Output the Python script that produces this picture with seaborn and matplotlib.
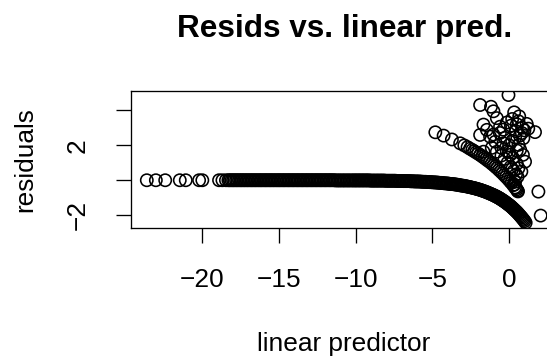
import matplotlib
matplotlib.use("Agg")
import matplotlib.pyplot as plt
import seaborn as sns
import pandas as pd

# Observations with a zero response: isolated low predictors
eta_far = [-23.62, -23.03, -22.42, -21.47, -21.08, -20.21, -20.00, -18.91, -18.69, -18.46]
res_far = [0.00, 0.00, 0.00, 0.00, 0.00, 0.00, 0.00, 0.00, 0.00, 0.00]

# Zero response, dense flat stretch
eta_flat = [-18.30, -18.21, -18.10, -18.00, -17.91, -17.80, -17.71, -17.60, -17.50, -17.41,
            -17.30, -17.21, -17.10, -17.01, -16.90, -16.80, -16.71, -16.60, -16.51, -16.40,
            -16.30, -16.20, -16.11, -16.00, -15.90, -15.81, -15.70, -15.60, -15.51, -15.40,
            -15.31, -15.20, -15.10, -15.00, -14.91, -14.80, -14.70, -14.61, -14.50, -14.40,
            -14.31, -14.20, -14.10, -14.01, -13.90, -13.80, -13.71, -13.60, -13.50, -13.41,
            -13.30, -13.20, -13.11, -13.00, -12.90, -12.81, -12.70, -12.60, -12.51, -12.40,
            -12.30, -12.21, -12.10, -12.00, -11.91, -11.80, -11.70, -11.61, -11.50, -11.40,
            -11.31, -11.20, -11.10, -11.01, -10.90, -10.80, -10.71, -10.60, -10.50, -10.41,
            -10.30, -10.20, -10.11]
res_flat = [0.00, 0.00, 0.00, 0.00, 0.00, 0.00, 0.00, 0.00, 0.00, 0.00,
            0.00, 0.00, 0.00, 0.00, 0.00, 0.00, 0.00, 0.00, 0.00, 0.00,
            0.00, 0.00, 0.00, 0.00, 0.00, 0.00, 0.00, 0.00, 0.00, 0.00,
            0.00, 0.00, 0.00, 0.00, 0.00, 0.00, 0.00, 0.00, 0.00, 0.00,
            0.00, 0.00, 0.00, 0.00, 0.00, 0.00, 0.00, 0.00, 0.00, 0.00,
            0.00, 0.00, 0.00, 0.00, 0.00, 0.00, 0.00, 0.00, 0.00, 0.00,
            0.00, 0.00, 0.00, 0.00, 0.00, 0.00, 0.00, 0.00, 0.00, 0.00,
            -0.01, -0.01, -0.01, -0.01, -0.01, -0.01, -0.01, -0.01, -0.01, -0.01,
            -0.01, -0.01, -0.01]

# Zero response, start of the bend
eta_mid = [-10.02, -9.93, -9.84, -9.75, -9.66, -9.57, -9.48, -9.39, -9.30, -9.21,
           -9.12, -9.03, -8.94, -8.85, -8.76, -8.67, -8.58, -8.49, -8.40, -8.31,
           -8.22, -8.13, -8.04, -7.95, -7.86, -7.77, -7.68, -7.59, -7.50, -7.41,
           -7.32, -7.23, -7.14, -7.05, -6.96, -6.87, -6.78, -6.69, -6.60, -6.51,
           -6.42, -6.33, -6.24, -6.15, -6.06, -5.97, -5.88, -5.79, -5.70, -5.61,
           -5.52, -5.43, -5.34, -5.25, -5.16, -5.07, -4.98, -4.89, -4.80, -4.71,
           -4.62, -4.53, -4.44, -4.35, -4.26, -4.17, -4.08, -3.99]
res_mid = [-0.01, -0.01, -0.01, -0.01, -0.01, -0.01, -0.01, -0.01, -0.01, -0.01,
           -0.01, -0.02, -0.02, -0.02, -0.02, -0.02, -0.02, -0.02, -0.02, -0.02,
           -0.02, -0.02, -0.03, -0.03, -0.03, -0.03, -0.03, -0.03, -0.03, -0.03,
           -0.04, -0.04, -0.04, -0.04, -0.04, -0.05, -0.05, -0.05, -0.05, -0.05,
           -0.06, -0.06, -0.06, -0.07, -0.07, -0.07, -0.07, -0.08, -0.08, -0.09,
           -0.09, -0.09, -0.10, -0.10, -0.11, -0.11, -0.12, -0.12, -0.13, -0.13,
           -0.14, -0.15, -0.15, -0.16, -0.17, -0.18, -0.18, -0.19]

# Zero response, steep tail
eta_tail = [-3.92, -3.84, -3.76, -3.68, -3.60, -3.52, -3.44, -3.36, -3.28, -3.20,
            -3.12, -3.04, -2.96, -2.88, -2.80, -2.72, -2.64, -2.56, -2.48, -2.40,
            -2.32, -2.24, -2.16, -2.08, -2.00, -1.92, -1.84, -1.76, -1.68, -1.60,
            -1.52, -1.44, -1.36, -1.28, -1.20, -1.12, -1.04, -0.97, -0.91, -0.85,
            -0.79, -0.73, -0.67, -0.61, -0.55, -0.49, -0.43, -0.37, -0.31, -0.25,
            -0.19, -0.13, -0.07, -0.01, 0.05, 0.11, 0.17, 0.23, 0.29, 0.35,
            0.41, 0.47, 0.53, 0.59, 0.65, 0.71, 0.77, 0.83, 0.89, 0.95,
            1.01, 1.08]
res_tail = [-0.20, -0.21, -0.22, -0.22, -0.23, -0.24, -0.25, -0.26, -0.27, -0.29,
            -0.30, -0.31, -0.32, -0.33, -0.35, -0.36, -0.38, -0.39, -0.41, -0.43,
            -0.44, -0.46, -0.48, -0.50, -0.52, -0.54, -0.56, -0.59, -0.61, -0.64,
            -0.66, -0.69, -0.72, -0.75, -0.78, -0.81, -0.84, -0.87, -0.90, -0.92,
            -0.95, -0.98, -1.01, -1.04, -1.07, -1.11, -1.14, -1.18, -1.21, -1.25,
            -1.29, -1.33, -1.37, -1.41, -1.45, -1.49, -1.54, -1.59, -1.64, -1.69,
            -1.74, -1.79, -1.84, -1.90, -1.96, -2.02, -2.08, -2.14, -2.21, -2.27,
            -2.34, -2.43]

# Response of one: the descending diagonal chain
eta_one = [-4.81, -4.27, -3.73, -3.19, -2.92, -2.71, -2.55, -2.40, -2.28, -2.15,
           -2.02, -1.88, -1.75, -1.62, -1.50, -1.38, -1.25, -1.13, -1.01, -0.90,
           -0.78, -0.66, -0.55, -0.43, -0.31, -0.20, -0.08, 0.04, 0.15, 0.27,
           0.38, 0.49, 0.58]
res_one = [2.74, 2.55, 2.33, 2.11, 1.99, 1.89, 1.80, 1.73, 1.66, 1.59,
           1.52, 1.44, 1.36, 1.28, 1.20, 1.12, 1.04, 0.95, 0.87, 0.78,
           0.69, 0.59, 0.50, 0.40, 0.29, 0.19, 0.08, -0.04, -0.15, -0.28,
           -0.41, -0.53, -0.64]

# Larger responses: the scattered cluster near zero
eta_high = [-0.04, -1.89, -1.18, -1.02, -0.80, 0.33, 0.66, 0.61, 1.15, 1.69,
            0.12, -1.67, -1.45, -0.37, -0.59, -1.02, -0.26, 0.83, 0.39, 0.93,
            -1.89, -1.24, -0.37, 0.61, 0.72, -1.13, -0.15, -1.67, -0.80, 0.07,
            1.04, 0.61, 0.39, 1.91, 2.06, -0.50, -0.30, -0.10, 0.10, 0.20,
            0.30, 0.45, 0.55, 0.00, 0.25, 0.50, 0.80, 0.35, 0.45, 0.55,
            0.20, 0.50, 0.85, -0.15, 0.45, 0.70, -0.60, 0.20, 1.00, -0.90,
            0.00, 0.50, 0.90, -0.50, 1.25]
res_high = [4.87, 4.30, 4.20, 3.94, 3.55, 3.88, 3.65, 3.37, 3.22, 2.75,
            3.12, 3.18, 2.88, 2.89, 3.06, 2.61, 2.42, 2.70, 2.45, 2.40,
            2.59, 2.49, 2.11, 2.02, 1.75, 1.85, 1.66, 1.63, 1.63, 1.45,
            1.06, 0.69, -0.08, -0.65, -2.02, 1.41, 1.22, 1.00, 0.76, 0.64,
            0.52, 0.33, 0.20, 1.61, 1.28, 0.94, 0.50, -0.25, -0.45, -0.60,
            3.50, 3.20, 3.00, 3.30, 2.80, 2.55, 2.70, 2.25, 2.85, 2.20,
            2.00, 1.70, 1.45, 1.85, 2.95]

x_ticks = [-20, -15, -10, -5, 0]
x_tick_labels = ["\u221220", "\u221215", "\u221210", "\u22125", "0"]
y_ticks = [-2, 0, 2, 4]
y_tick_labels = ["\u22122", "", "2", ""]

df = pd.DataFrame({
    "eta": eta_far + eta_flat + eta_mid + eta_tail + eta_one + eta_high,
    "resid": res_far + res_flat + res_mid + res_tail + res_one + res_high,
})

sns.set_theme(style="white")
plt.rcParams["font.family"] = ["Liberation Sans", "DejaVu Sans"]

W, H = 547, 356
fig = plt.figure(figsize=(W / 100, H / 100), dpi=100)
fig.patch.set_facecolor("white")

# plot box in pixels: left 131, right 556.5 (runs past the canvas), top 91, bottom 228
ax_l, ax_r, ax_t, ax_b = 131, 556.5, 91, 228
ax = fig.add_axes([ax_l / W, (H - ax_b) / H, (ax_r - ax_l) / W, (ax_b - ax_t) / H])
ax.set_facecolor("white")

marker_area = 78
sns.scatterplot(data=df, x="eta", y="resid", ax=ax, s=marker_area, marker="o",
                color="black", legend=False)
pts = ax.collections[0]
pts.set_facecolor("none")
pts.set_edgecolor("black")
pts.set_linewidth(1.15)
pts.set_sizes([marker_area])

ax.set_xlim(-24.65, 3.09)
ax.set_ylim(-2.73, 5.10)

for sp in ax.spines.values():
    sp.set_visible(True)
    sp.set_color("black")
    sp.set_linewidth(0.95)

fs = 18.9
ax.set_xticks(x_ticks)
ax.set_xticklabels(x_tick_labels, fontsize=fs, va="baseline")
ax.set_yticks(y_ticks)
ax.set_yticklabels(y_tick_labels, fontsize=fs, rotation=90,
                   rotation_mode="anchor", ha="center", va="baseline")
ax.tick_params(axis="both", direction="out", length=10.8, width=0.95,
               colors="black", bottom=True, left=True)
ax.tick_params(axis="x", pad=31.5)
ax.tick_params(axis="y", pad=22.3)

ax.set_xlabel("linear predictor", fontsize=fs, color="black")
ax.xaxis.set_label_coords(0.5, (ax_b - 351) / (ax_b - ax_t))
ax.xaxis.label.set_va("baseline")

ax.set_ylabel("residuals", fontsize=fs, color="black")
ax.yaxis.set_label_coords((32 - ax_l) / (ax_r - ax_l), 0.5)
ax.yaxis.label.set_va("baseline")

fig.text(344.5 / W, 1 - 37 / H, "Resids vs. linear pred.", ha="center",
         va="baseline", fontsize=22.7, fontweight="bold", color="black")

fig.savefig("out.png", dpi=100, facecolor="white")
